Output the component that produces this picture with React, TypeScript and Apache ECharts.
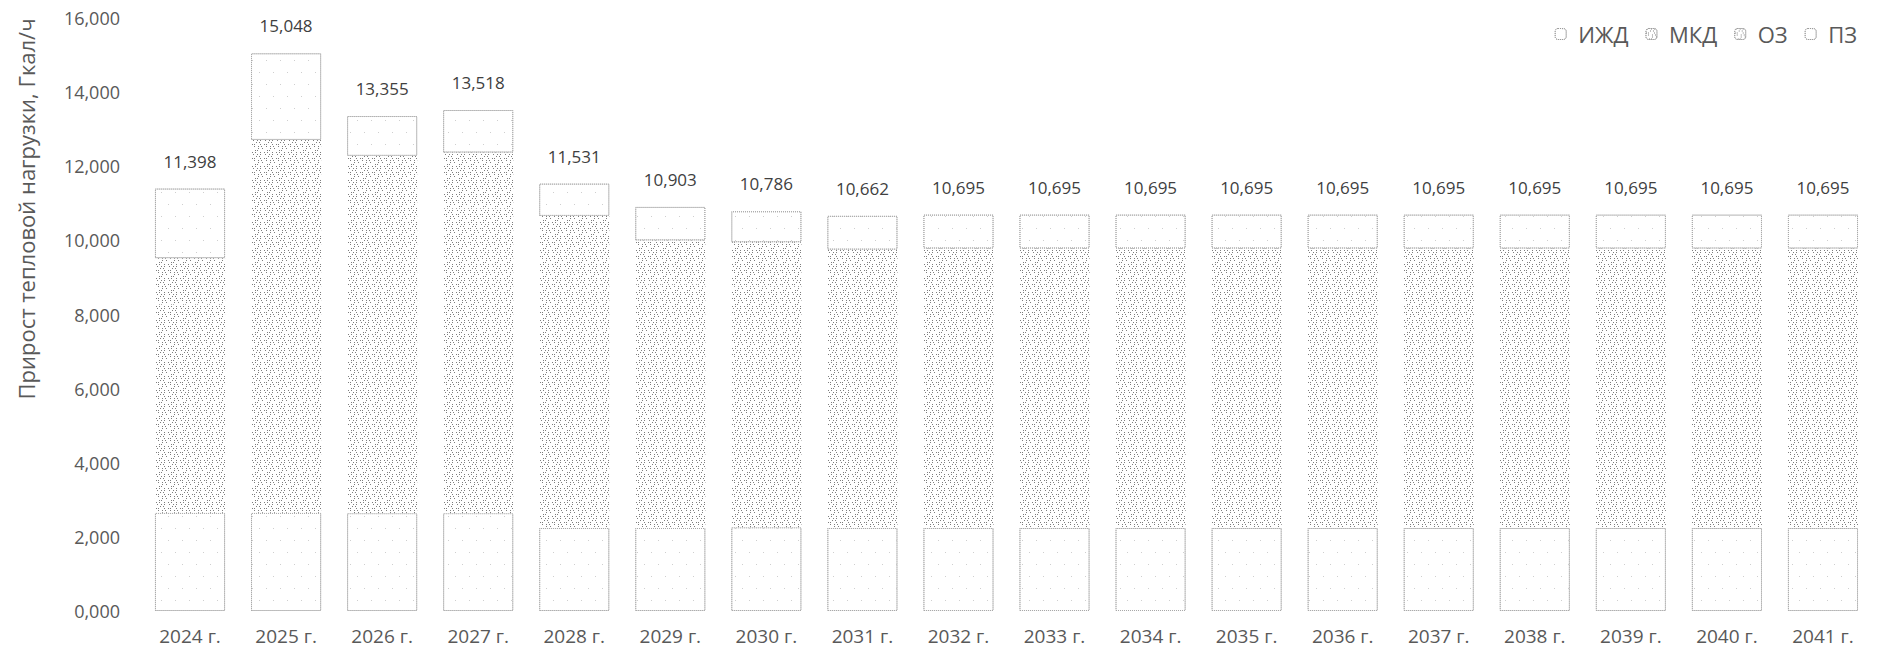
import React, { useEffect, useRef } from "react";
import * as echarts from "echarts";

const categories = ["2024 г.", "2025 г.", "2026 г.", "2027 г.", "2028 г.", "2029 г.", "2030 г.", "2031 г.", "2032 г.", "2033 г.", "2034 г.", "2035 г.", "2036 г.", "2037 г.", "2038 г.", "2039 г.", "2040 г.", "2041 г."];
const izhd = [2.65, 2.65, 2.64, 2.64, 2.24, 2.24, 2.26, 2.24, 2.24, 2.24, 2.24, 2.24, 2.24, 2.24, 2.24, 2.24, 2.24, 2.24];
const mkd = [5.62, 8.46, 8.14, 8.23, 7.12, 6.56, 6.49, 6.31, 6.34, 6.34, 6.34, 6.34, 6.34, 6.34, 6.34, 6.34, 6.34, 6.34];
const oz = [1.25, 1.6, 1.5, 1.5, 1.3, 1.2, 1.2, 1.2, 1.2, 1.2, 1.2, 1.2, 1.2, 1.2, 1.2, 1.2, 1.2, 1.2];
const pz = [1.878, 2.338, 1.075, 1.148, 0.871, 0.903, 0.836, 0.912, 0.915, 0.915, 0.915, 0.915, 0.915, 0.915, 0.915, 0.915, 0.915, 0.915];
const seriesNames = ["ИЖД", "МКД", "ОЗ", "ПЗ"];

const fmt = (v: number) => v.toFixed(3).replace(".", ",");
const FONT = "'Open Sans', sans-serif";

export default function App() {
  const ref = useRef<HTMLDivElement>(null);
  useEffect(() => {
    if (!ref.current) return;
    const chart = echarts.init(ref.current, undefined, { renderer: "svg" });
    const totals = izhd.map((v, i) => v + mkd[i] + oz[i] + pz[i]);
    const sparse = {
      color: "#ffffff",
      borderColor: "#a8a8a8",
      borderWidth: 1,
      borderType: "dotted" as const,
      decal: {
        symbol: "rect",
        symbolSize: 1,
        color: "#cfcfcf",
        dashArrayX: [[1, 13], [0, 7, 1, 6]],
        dashArrayY: [1, 11],
        rotation: 0,
      },
    };
    const dense = {
      color: "#ffffff",
      decal: {
        symbol: "rect",
        symbolSize: 1,
        color: "#7e7e7e",
        dashArrayX: [
          [1, 2, 1, 4, 1, 3],
          [0, 1, 1, 3, 1, 2, 1, 3],
          [0, 4, 1, 2, 1, 4],
          [1, 1, 1, 5, 1, 3],
          [0, 2, 1, 3, 1, 2, 1, 2],
          [0, 6, 1, 3, 1, 1],
          [0, 3, 1, 1, 1, 6],
        ],
        dashArrayY: [1, 1],
        rotation: 0,
      },
    };
    const mk = (name: string, data: number[], style: any, extra: any = {}) => ({
      name,
      type: "bar",
      stack: "total",
      data,
      barCategoryGap: "27%",
      itemStyle: style,
      emphasis: { disabled: true },
      ...extra,
    });
    chart.setOption({
      animation: false,
      textStyle: { fontFamily: FONT },
      grid: { left: 142, right: 10, top: 18, bottom: 44, containLabel: false },
      legend: {
        right: 19,
        top: 18,
        itemWidth: 11,
        itemHeight: 11,
        itemGap: 17,
        itemStyle: { borderColor: "#9a9a9a", borderWidth: 1, borderType: "dotted" },
        textStyle: { fontSize: 22, color: "#595959", fontFamily: FONT, padding: [0, 0, 0, 7] },
        data: seriesNames,
      },
      xAxis: {
        type: "category",
        data: categories,
        axisLine: { show: false },
        axisTick: { show: false },
        axisLabel: { color: "#595959", fontSize: 19, margin: 15, fontFamily: FONT },
      },
      yAxis: {
        type: "value",
        min: 0,
        max: 16,
        interval: 2,
        splitLine: { show: false },
        axisLine: { show: false },
        axisTick: { show: false },
        axisLabel: { color: "#595959", fontSize: 18, margin: 22, fontFamily: FONT, formatter: (v: number) => fmt(v) },
      },
      graphic: [
        {
          type: "text",
          x: 26,
          y: 209,
          rotation: Math.PI / 2,
          style: {
            text: "Прирост тепловой нагрузки, Гкал/ч",
            fill: "#595959",
            fontSize: 22,
            fontFamily: FONT,
            align: "center",
            verticalAlign: "middle",
          },
        },
      ],
      series: [
        mk(seriesNames[0], izhd, sparse),
        mk(seriesNames[1], mkd, dense),
        mk(seriesNames[2], oz, dense),
        mk(seriesNames[3], pz, sparse, {
          label: {
            show: true,
            position: "top",
            distance: 19,
            color: "#404040",
            fontSize: 17,
            fontFamily: FONT,
            formatter: (p: any) => fmt(totals[p.dataIndex]),
          },
        }),
      ],
    });
    return () => chart.dispose();
  }, []);
  return (
    <div
      ref={ref}
      style={{ position: "absolute", left: 0, top: 0, width: 1881, height: 655, background: "#ffffff" }}
    />
  );
}
